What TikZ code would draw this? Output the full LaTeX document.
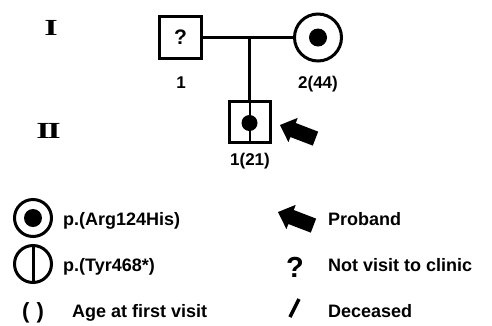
\documentclass[tikz,border=0pt]{standalone}
\usepackage{fontspec}
\setmainfont{Liberation Sans}
\newfontfamily\romanfont{Liberation Serif}
\begin{document}
\begin{tikzpicture}[x=1pt,y=-1pt,
  lw/.style={line width=3pt},
  sqnode/.style={draw,lw,rectangle,minimum size=#1,inner sep=0pt},
  cinode/.style={draw,lw,circle,minimum size=#1,inner sep=0pt},
  dot/.style={fill,circle,minimum size=#1,inner sep=0pt},
  lbl/.style={font=\fontsize{17}{19}\selectfont\bfseries,inner sep=0pt,anchor=base},
  leg/.style={font=\fontsize{18}{20}\selectfont\bfseries,inner sep=0pt,anchor=base west},
  gen/.style={font=\romanfont\fontsize{23}{25}\selectfont\bfseries,inner sep=0pt},
  proband/.pic={\fill (0,0) -- (14,-13) -- (14,-7.5) -- (38,-7.5) -- (38,7.5) -- (14,7.5) -- (14,13) -- cycle;}
]
\useasboundingbox (0,0) rectangle (492,325);
% generations
\node[gen] (g1) at (51,28) {\scalebox{1.5}[1]{I}};
\node[gen] (g2) at (48.5,131) {\scalebox{1.5}[1]{I\kern-1.6ptI}};
% generation I
\node[sqnode=42] (a1) at (180.5,37.5) {\fontsize{21}{23}\selectfont\bfseries ?};
\node[cinode=47] (a2) at (318,37.5) {};
\node[dot=18] (a2d) at (a2.center) {};
\draw[lw] (a1.east) -- (a2.west);
% generation II
\node[sqnode=41] (b1) at (249.5,122) {};
\draw[line width=2pt] (b1.north) -- (b1.south);
\node[dot=16] (b1d) at (249.5,123) {};
\coordinate (mid) at (b1.north |- a1.east);
\draw[lw] (mid) -- (b1.north);
\pic[rotate=-21] at (280,125) {proband};
% labels
\node[lbl] (l1) at (181,88) {1};
\node[lbl] (l2) at (318,88) {2(44)};
\node[lbl] (l3) at (250,165) {1(21)};
% legend
\node[cinode=37] (k1) at (33,218) {};
\node[dot=18] (k1d) at (k1.center) {};
\node[leg] (t1) at (63,225) {p.(Arg124His)};
\node[cinode=37] (k2) at (33,264) {};
\draw[lw] (k2.north) -- (k2.south);
\node[leg] (t2) at (63,271) {p.(Tyr468*)};
\node[leg,font=\fontsize{22}{24}\selectfont\bfseries] (k3) at (22,318) {(\hspace*{7pt})};
\node[leg] (t3) at (72,317) {Age at first visit};
\pic[rotate=-21] at (278,212) {proband};
\node[leg] (t4) at (328,225) {Proband};
\node[font=\fontsize{29}{31}\selectfont\bfseries,inner sep=0pt,anchor=base] (k5) at (295,277) {?};
\node[leg] (t5) at (328,271) {Not visit to clinic};
\coordinate (s1) at (290,317);
\coordinate (s2) at (299,299);
\draw[line width=3.5pt] (s1) -- (s2);
\node[leg] (t6) at (328,317) {Deceased};
\end{tikzpicture}
\end{document}
